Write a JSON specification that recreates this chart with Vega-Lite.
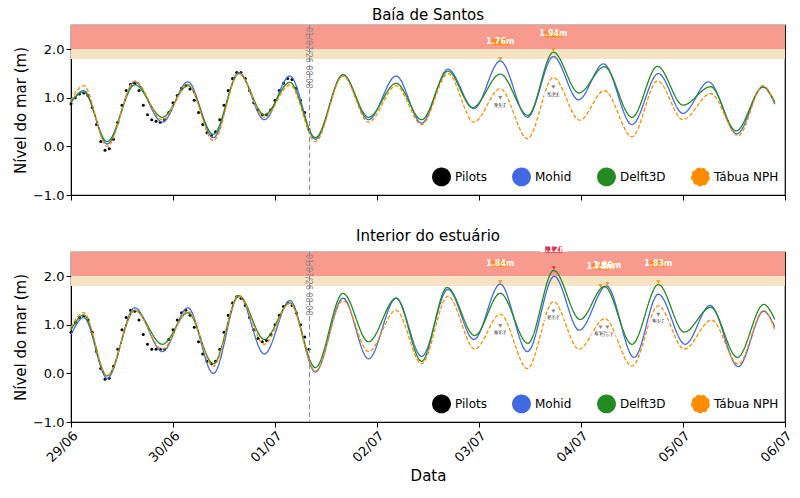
{
  "$schema": "https://vega.github.io/schema/vega-lite/v6.json",
  "padding": {"left": 12, "top": 6, "right": 8, "bottom": 5},
  "config": {
    "font": "DejaVu Sans",
    "view": {"stroke": "black", "strokeWidth": 1.2},
    "title": {"fontSize": 15, "fontWeight": "normal", "offset": 2},
    "axis": {"labelFontSize": 13, "titleFontSize": 15, "titleFontWeight": "normal", "grid": false, "tickColor": "black", "domainColor": "black", "labelColor": "black", "labelOverlap": false},
    "legend": {"orient": "bottom-right", "direction": "horizontal", "columns": 4, "labelFontSize": 12, "title": null, "symbolStrokeWidth": 1.5, "symbolSize": 300, "columnPadding": 22, "offset": 6}
  },
  "datasets": {
    "top": [
      {"s":"Pilots","h":0,"v":0.88},{"s":"Pilots","h":1,"v":1.0},{"s":"Pilots","h":2,"v":1.08},{"s":"Pilots","h":3,"v":1.1},{"s":"Pilots","h":4,"v":1.05},{"s":"Pilots","h":5,"v":0.8},{"s":"Pilots","h":6,"v":0.45},{"s":"Pilots","h":7,"v":0.1},{"s":"Pilots","h":8,"v":-0.08},{"s":"Pilots","h":9,"v":-0.05},{"s":"Pilots","h":10,"v":0.15},{"s":"Pilots","h":11,"v":0.5},{"s":"Pilots","h":12,"v":0.85},{"s":"Pilots","h":13,"v":1.15},{"s":"Pilots","h":14,"v":1.28},{"s":"Pilots","h":15,"v":1.3},{"s":"Pilots","h":16,"v":1.15},{"s":"Pilots","h":17,"v":0.85},{"s":"Pilots","h":18,"v":0.65},{"s":"Pilots","h":19,"v":0.55},{"s":"Pilots","h":20,"v":0.52},{"s":"Pilots","h":21,"v":0.5},{"s":"Pilots","h":22,"v":0.55},{"s":"Pilots","h":23,"v":0.7},{"s":"Pilots","h":24,"v":0.9},{"s":"Pilots","h":25,"v":1.05},{"s":"Pilots","h":26,"v":1.2},{"s":"Pilots","h":27,"v":1.25},{"s":"Pilots","h":28,"v":1.18},{"s":"Pilots","h":29,"v":0.95},{"s":"Pilots","h":30,"v":0.7},{"s":"Pilots","h":31,"v":0.45},{"s":"Pilots","h":32,"v":0.28},{"s":"Pilots","h":33,"v":0.22},{"s":"Pilots","h":34,"v":0.3},{"s":"Pilots","h":35,"v":0.55},{"s":"Pilots","h":36,"v":0.85},{"s":"Pilots","h":37,"v":1.15},{"s":"Pilots","h":38,"v":1.4},{"s":"Pilots","h":39,"v":1.52},{"s":"Pilots","h":40,"v":1.52},{"s":"Pilots","h":41,"v":1.4},{"s":"Pilots","h":42,"v":1.15},{"s":"Pilots","h":43,"v":0.9},{"s":"Pilots","h":44,"v":0.75},{"s":"Pilots","h":45,"v":0.65},{"s":"Pilots","h":46,"v":0.65},{"s":"Pilots","h":47,"v":0.75},{"s":"Pilots","h":48,"v":0.95},{"s":"Pilots","h":49,"v":1.15},{"s":"Pilots","h":50,"v":1.3},{"s":"Pilots","h":51,"v":1.4},{"s":"Pilots","h":52,"v":1.38},{"s":"Pilots","h":53,"v":1.2},{"s":"Pilots","h":54,"v":0.95},{"s":"Pilots","h":55,"v":0.7},{"s":"Pilots","h":56,"v":0.35},
      {"s":"Mohid","h":0,"v":0.9},{"s":"Mohid","h":3,"v":1.15},{"s":"Mohid","h":8.5,"v":0.05},{"s":"Mohid","h":15,"v":1.33},{"s":"Mohid","h":21.5,"v":0.5},{"s":"Mohid","h":27.5,"v":1.33},{"s":"Mohid","h":33.5,"v":0.18},{"s":"Mohid","h":39.5,"v":1.52},{"s":"Mohid","h":45.5,"v":0.55},{"s":"Mohid","h":51.5,"v":1.45},{"s":"Mohid","h":57.5,"v":0.15},{"s":"Mohid","h":64,"v":1.48},{"s":"Mohid","h":70,"v":0.55},{"s":"Mohid","h":76.5,"v":1.45},{"s":"Mohid","h":82.5,"v":0.48},{"s":"Mohid","h":88.7,"v":1.59},{"s":"Mohid","h":94.8,"v":0.78},{"s":"Mohid","h":101,"v":1.76},{"s":"Mohid","h":107.4,"v":0.6},{"s":"Mohid","h":113.5,"v":1.85},{"s":"Mohid","h":119.4,"v":0.96},{"s":"Mohid","h":125.3,"v":1.7},{"s":"Mohid","h":132,"v":0.45},{"s":"Mohid","h":138.2,"v":1.5},{"s":"Mohid","h":144,"v":0.68},{"s":"Mohid","h":150,"v":1.33},{"s":"Mohid","h":156.7,"v":0.26},{"s":"Mohid","h":162.8,"v":1.23},{"s":"Mohid","h":165.6,"v":0.87},
      {"s":"Delft3D","h":0,"v":0.92},{"s":"Delft3D","h":3,"v":1.12},{"s":"Delft3D","h":8.5,"v":0.1},{"s":"Delft3D","h":15,"v":1.27},{"s":"Delft3D","h":21.5,"v":0.6},{"s":"Delft3D","h":27.5,"v":1.25},{"s":"Delft3D","h":33.5,"v":0.25},{"s":"Delft3D","h":39.5,"v":1.5},{"s":"Delft3D","h":45.5,"v":0.65},{"s":"Delft3D","h":51.5,"v":1.32},{"s":"Delft3D","h":57.5,"v":0.18},{"s":"Delft3D","h":64,"v":1.47},{"s":"Delft3D","h":70,"v":0.6},{"s":"Delft3D","h":76.5,"v":1.3},{"s":"Delft3D","h":82.5,"v":0.55},{"s":"Delft3D","h":88.7,"v":1.55},{"s":"Delft3D","h":94.5,"v":0.8},{"s":"Delft3D","h":101,"v":1.49},{"s":"Delft3D","h":107.5,"v":0.64},{"s":"Delft3D","h":113.5,"v":1.94},{"s":"Delft3D","h":119.5,"v":1.1},{"s":"Delft3D","h":125.5,"v":1.64},{"s":"Delft3D","h":132,"v":0.6},{"s":"Delft3D","h":138,"v":1.65},{"s":"Delft3D","h":144,"v":0.85},{"s":"Delft3D","h":150.5,"v":1.23},{"s":"Delft3D","h":156.5,"v":0.32},{"s":"Delft3D","h":162.8,"v":1.22},{"s":"Delft3D","h":165.6,"v":0.92},
      {"s":"Tábua NPH","h":0,"v":0.95},{"s":"Tábua NPH","h":3,"v":1.25},{"s":"Tábua NPH","h":8.5,"v":0},{"s":"Tábua NPH","h":15,"v":1.35},{"s":"Tábua NPH","h":21.5,"v":0.55},{"s":"Tábua NPH","h":27.5,"v":1.28},{"s":"Tábua NPH","h":33.5,"v":0.12},{"s":"Tábua NPH","h":39.5,"v":1.5},{"s":"Tábua NPH","h":45.5,"v":0.6},{"s":"Tábua NPH","h":51.5,"v":1.27},{"s":"Tábua NPH","h":57.5,"v":0.1},{"s":"Tábua NPH","h":64,"v":1.45},{"s":"Tábua NPH","h":70,"v":0.5},{"s":"Tábua NPH","h":76.5,"v":1.25},{"s":"Tábua NPH","h":82.5,"v":0.45},{"s":"Tábua NPH","h":88.7,"v":1.5},{"s":"Tábua NPH","h":94.8,"v":0.5},{"s":"Tábua NPH","h":101,"v":1.19},{"s":"Tábua NPH","h":107.4,"v":0.16},{"s":"Tábua NPH","h":113.5,"v":1.42},{"s":"Tábua NPH","h":119.7,"v":0.54},{"s":"Tábua NPH","h":125.5,"v":1.15},{"s":"Tábua NPH","h":132,"v":0.2},{"s":"Tábua NPH","h":138,"v":1.35},{"s":"Tábua NPH","h":144,"v":0.55},{"s":"Tábua NPH","h":150.5,"v":1.09},{"s":"Tábua NPH","h":157,"v":0.22},{"s":"Tábua NPH","h":162.8,"v":1.25},{"s":"Tábua NPH","h":165.6,"v":0.9}
    ],
    "bot": [
      {"s":"Pilots","h":0,"v":0.85},{"s":"Pilots","h":1,"v":1.05},{"s":"Pilots","h":2,"v":1.15},{"s":"Pilots","h":3,"v":1.18},{"s":"Pilots","h":4,"v":1.1},{"s":"Pilots","h":5,"v":0.85},{"s":"Pilots","h":6,"v":0.45},{"s":"Pilots","h":7,"v":0.1},{"s":"Pilots","h":8,"v":-0.12},{"s":"Pilots","h":9,"v":-0.1},{"s":"Pilots","h":10,"v":0.15},{"s":"Pilots","h":11,"v":0.5},{"s":"Pilots","h":12,"v":0.9},{"s":"Pilots","h":13,"v":1.15},{"s":"Pilots","h":14,"v":1.3},{"s":"Pilots","h":15,"v":1.28},{"s":"Pilots","h":16,"v":1.1},{"s":"Pilots","h":17,"v":0.8},{"s":"Pilots","h":18,"v":0.6},{"s":"Pilots","h":19,"v":0.5},{"s":"Pilots","h":20,"v":0.5},{"s":"Pilots","h":21,"v":0.5},{"s":"Pilots","h":22,"v":0.5},{"s":"Pilots","h":23,"v":0.7},{"s":"Pilots","h":24,"v":0.9},{"s":"Pilots","h":25,"v":1.1},{"s":"Pilots","h":26,"v":1.25},{"s":"Pilots","h":27,"v":1.3},{"s":"Pilots","h":28,"v":1.2},{"s":"Pilots","h":29,"v":0.95},{"s":"Pilots","h":30,"v":0.65},{"s":"Pilots","h":31,"v":0.4},{"s":"Pilots","h":32,"v":0.25},{"s":"Pilots","h":33,"v":0.2},{"s":"Pilots","h":34,"v":0.25},{"s":"Pilots","h":35,"v":0.5},{"s":"Pilots","h":36,"v":0.85},{"s":"Pilots","h":37,"v":1.2},{"s":"Pilots","h":38,"v":1.45},{"s":"Pilots","h":39,"v":1.58},{"s":"Pilots","h":40,"v":1.55},{"s":"Pilots","h":41,"v":1.4},{"s":"Pilots","h":42,"v":1.15},{"s":"Pilots","h":43,"v":0.9},{"s":"Pilots","h":44,"v":0.72},{"s":"Pilots","h":45,"v":0.65},{"s":"Pilots","h":46,"v":0.68},{"s":"Pilots","h":47,"v":0.8},{"s":"Pilots","h":48,"v":1.0},{"s":"Pilots","h":49,"v":1.2},{"s":"Pilots","h":50,"v":1.38},{"s":"Pilots","h":51,"v":1.45},{"s":"Pilots","h":52,"v":1.4},{"s":"Pilots","h":53,"v":1.25},{"s":"Pilots","h":54,"v":1.0},{"s":"Pilots","h":55,"v":0.75},{"s":"Pilots","h":56,"v":0.5},
      {"s":"Mohid","h":0,"v":0.8},{"s":"Mohid","h":3,"v":1.15},{"s":"Mohid","h":8.5,"v":-0.1},{"s":"Mohid","h":15,"v":1.35},{"s":"Mohid","h":21.5,"v":0.45},{"s":"Mohid","h":27.5,"v":1.35},{"s":"Mohid","h":33.5,"v":0},{"s":"Mohid","h":39.5,"v":1.6},{"s":"Mohid","h":45.5,"v":0.4},{"s":"Mohid","h":51.5,"v":1.5},{"s":"Mohid","h":57.5,"v":0.03},{"s":"Mohid","h":64,"v":1.55},{"s":"Mohid","h":70,"v":0.3},{"s":"Mohid","h":76.5,"v":1.55},{"s":"Mohid","h":82.5,"v":0.35},{"s":"Mohid","h":88.7,"v":1.73},{"s":"Mohid","h":94.8,"v":0.7},{"s":"Mohid","h":101,"v":1.84},{"s":"Mohid","h":107.4,"v":0.45},{"s":"Mohid","h":113.7,"v":2.0},{"s":"Mohid","h":119.6,"v":0.89},{"s":"Mohid","h":126,"v":1.8},{"s":"Mohid","h":132.5,"v":0.33},{"s":"Mohid","h":138.2,"v":1.63},{"s":"Mohid","h":144.5,"v":0.6},{"s":"Mohid","h":150.4,"v":1.4},{"s":"Mohid","h":157,"v":0.14},{"s":"Mohid","h":163,"v":1.28},{"s":"Mohid","h":165.6,"v":0.95},
      {"s":"Delft3D","h":0,"v":0.9},{"s":"Delft3D","h":3,"v":1.2},{"s":"Delft3D","h":8.5,"v":-0.05},{"s":"Delft3D","h":15,"v":1.3},{"s":"Delft3D","h":21.5,"v":0.6},{"s":"Delft3D","h":27.5,"v":1.25},{"s":"Delft3D","h":33.5,"v":0.2},{"s":"Delft3D","h":39.5,"v":1.6},{"s":"Delft3D","h":45.5,"v":0.7},{"s":"Delft3D","h":51.5,"v":1.45},{"s":"Delft3D","h":57.5,"v":0.12},{"s":"Delft3D","h":64,"v":1.65},{"s":"Delft3D","h":70,"v":0.65},{"s":"Delft3D","h":76.5,"v":1.55},{"s":"Delft3D","h":82.5,"v":0.25},{"s":"Delft3D","h":88.5,"v":1.77},{"s":"Delft3D","h":95,"v":0.78},{"s":"Delft3D","h":101,"v":1.65},{"s":"Delft3D","h":107.5,"v":0.62},{"s":"Delft3D","h":113.6,"v":2.12},{"s":"Delft3D","h":119.8,"v":1.11},{"s":"Delft3D","h":125.5,"v":1.79},{"s":"Delft3D","h":132,"v":0.6},{"s":"Delft3D","h":138.2,"v":1.83},{"s":"Delft3D","h":144.3,"v":0.85},{"s":"Delft3D","h":150.5,"v":1.36},{"s":"Delft3D","h":156.8,"v":0.33},{"s":"Delft3D","h":163,"v":1.42},{"s":"Delft3D","h":165.6,"v":1.11},
      {"s":"Tábua NPH","h":0,"v":0.95},{"s":"Tábua NPH","h":3,"v":1.25},{"s":"Tábua NPH","h":8.5,"v":-0.05},{"s":"Tábua NPH","h":15,"v":1.3},{"s":"Tábua NPH","h":21.5,"v":0.5},{"s":"Tábua NPH","h":27.5,"v":1.28},{"s":"Tábua NPH","h":33.5,"v":0.15},{"s":"Tábua NPH","h":39.5,"v":1.6},{"s":"Tábua NPH","h":45.5,"v":0.6},{"s":"Tábua NPH","h":51.5,"v":1.45},{"s":"Tábua NPH","h":57.5,"v":0.05},{"s":"Tábua NPH","h":64,"v":1.5},{"s":"Tábua NPH","h":70,"v":0.45},{"s":"Tábua NPH","h":76.5,"v":1.3},{"s":"Tábua NPH","h":82.5,"v":0.2},{"s":"Tábua NPH","h":88.7,"v":1.59},{"s":"Tábua NPH","h":95,"v":0.5},{"s":"Tábua NPH","h":101,"v":1.22},{"s":"Tábua NPH","h":107.4,"v":0.1},{"s":"Tábua NPH","h":113.5,"v":1.48},{"s":"Tábua NPH","h":119.5,"v":0.5},{"s":"Tábua NPH","h":125.6,"v":1.13},{"s":"Tábua NPH","h":132,"v":0.15},{"s":"Tábua NPH","h":138.2,"v":1.39},{"s":"Tábua NPH","h":144.3,"v":0.5},{"s":"Tábua NPH","h":150.7,"v":1.1},{"s":"Tábua NPH","h":157,"v":0.19},{"s":"Tábua NPH","h":163,"v":1.3},{"s":"Tábua NPH","h":165.6,"v":0.9}
    ],
    "annTop": [
      {"h":101,"y":2.15,"p":1.8,"t":"1.76m","k":"o"},
      {"h":113.5,"y":2.31,"p":1.99,"t":"1.94m","k":"o"},
      {"h":101,"y":0.85,"p":1.0,"t":"1.19m","k":"g"},
      {"h":113.5,"y":1.07,"p":1.22,"t":"1.42m","k":"g"}
    ],
    "annBot": [
      {"h":101,"y":2.26,"p":1.88,"t":"1.84m","k":"o"},
      {"h":113.6,"y":2.55,"p":2.17,"t":"2.12m","k":"r"},
      {"h":124.6,"y":2.2,"p":1.8,"t":"1.78m","k":"o"},
      {"h":126.2,"y":2.22,"p":1.84,"t":"1.80m","k":"o"},
      {"h":138.2,"y":2.26,"p":1.88,"t":"1.83m","k":"o"},
      {"h":101,"y":0.84,"p":0.98,"t":"1.18m","k":"g"},
      {"h":113.5,"y":1.15,"p":1.28,"t":"1.48m","k":"g"},
      {"h":124.6,"y":0.82,"p":0.95,"t":"1.12m","k":"g"},
      {"h":126.2,"y":0.8,"p":0.95,"t":"1.13m","k":"g"},
      {"h":138.2,"y":1.08,"p":1.21,"t":"1.39m","k":"g"}
    ]
  },
  "resolve": {"legend": {"color": "independent", "strokeDash": "independent"}},
  "spacing": 24,
  "vconcat": [
    {
      "title": "Baía de Santos",
      "width": 714,
      "height": 170,
      "layer": [
        {"data": {"values": [{"a": 2.0, "b": 2.5}]}, "mark": {"type": "rect", "color": "#f99a8e"}, "encoding": {"y": {"field": "a", "type": "quantitative", "scale": {"domain": [-1, 2.5]}}, "y2": {"field": "b"}}},
        {"data": {"values": [{"a": 1.8, "b": 2.0}]}, "mark": {"type": "rect", "color": "#f6e3c3"}, "encoding": {"y": {"field": "a", "type": "quantitative"}, "y2": {"field": "b"}}},
        {"data": {"name": "top"}, "transform": [{"filter": "datum.s == 'Pilots'"}], "mark": {"type": "point", "filled": true, "size": 9, "opacity": 1}, "encoding": {"x": {"field": "h", "type": "quantitative"}, "y": {"field": "v", "type": "quantitative"}, "color": {"field": "s", "type": "nominal", "scale": {"domain": ["Pilots", "Mohid", "Delft3D", "Tábua NPH"], "range": ["black", "#4169e1", "#228b22", "#ff8c00"]}}}},
        {"data": {"name": "top"}, "transform": [{"filter": "datum.s != 'Pilots'"}], "mark": {"type": "line", "interpolate": "monotone", "strokeWidth": 1.3}, "encoding": {
          "x": {"field": "h", "type": "quantitative", "scale": {"domain": [0, 168], "nice": false}, "axis": {"values": [0, 24, 48, 72, 96, 120, 144, 168], "labels": false, "title": null}},
          "y": {"field": "v", "type": "quantitative", "scale": {"domain": [-1, 2.5], "nice": false}, "axis": {"values": [-1, -0.5, 0, 0.5, 1, 1.5, 2, 2.5], "format": ".1f", "title": "Nível do mar (m)"}},
          "color": {"field": "s", "type": "nominal"},
          "strokeDash": {"field": "s", "type": "nominal", "scale": {"domain": ["Pilots", "Mohid", "Delft3D", "Tábua NPH"], "range": [[1, 0], [1, 0], [1, 0], [4, 2]]}}}},
        {"data": {"values": [{"h": 56.13}]}, "mark": {"type": "rule", "color": "#888", "strokeDash": [5, 3]}, "encoding": {"x": {"field": "h", "type": "quantitative"}}},
        {"data": {"values": [{"h": 56.13, "y": 2.5, "t": "01/07/26 08:08"}]}, "mark": {"type": "text", "angle": 90, "align": "left", "baseline": "top", "dx": 2, "dy": -2, "fontSize": 8, "color": "#888"}, "encoding": {"x": {"field": "h", "type": "quantitative"}, "y": {"field": "y", "type": "quantitative"}, "text": {"field": "t"}}},
        {"data": {"name": "annTop"}, "mark": {"type": "point", "shape": "triangle-down", "filled": true, "size": 18, "opacity": 1}, "encoding": {"x": {"field": "h", "type": "quantitative"}, "y": {"field": "p", "type": "quantitative"}, "color": {"condition": [{"test": "datum.k == 'r'", "value": "#dc3545"}, {"test": "datum.k == 'g'", "value": "#8a8a8a"}], "value": "#ff8c1a"}}},
        {"data": {"name": "annTop"}, "mark": {"type": "point", "shape": "M-1.5,-0.55H1.5V0.55H-1.5Z", "filled": true, "opacity": 1}, "encoding": {"x": {"field": "h", "type": "quantitative"}, "y": {"field": "y", "type": "quantitative"}, "color": {"condition": [{"test": "datum.k == 'r'", "value": "#dc3545"}, {"test": "datum.k == 'g'", "value": "#8a8a8a"}], "value": "#ff8c1a"}, "size": {"condition": {"test": "datum.k == 'g'", "value": 60}, "value": 130}}},
        {"data": {"name": "annTop"}, "mark": {"type": "text", "color": "white", "fontWeight": "bold"}, "encoding": {"x": {"field": "h", "type": "quantitative"}, "y": {"field": "y", "type": "quantitative"}, "text": {"field": "t"}, "size": {"condition": {"test": "datum.k == 'g'", "value": 6}, "value": 8}}}
      ]
    },
    {
      "title": "Interior do estuário",
      "width": 714,
      "height": 170,
      "layer": [
        {"data": {"values": [{"a": 2.0, "b": 2.5}]}, "mark": {"type": "rect", "color": "#f99a8e"}, "encoding": {"y": {"field": "a", "type": "quantitative", "scale": {"domain": [-1, 2.5]}}, "y2": {"field": "b"}}},
        {"data": {"values": [{"a": 1.8, "b": 2.0}]}, "mark": {"type": "rect", "color": "#f6e3c3"}, "encoding": {"y": {"field": "a", "type": "quantitative"}, "y2": {"field": "b"}}},
        {"data": {"name": "bot"}, "transform": [{"filter": "datum.s == 'Pilots'"}], "mark": {"type": "point", "filled": true, "size": 9, "opacity": 1}, "encoding": {"x": {"field": "h", "type": "quantitative"}, "y": {"field": "v", "type": "quantitative"}, "color": {"field": "s", "type": "nominal", "scale": {"domain": ["Pilots", "Mohid", "Delft3D", "Tábua NPH"], "range": ["black", "#4169e1", "#228b22", "#ff8c00"]}}}},
        {"data": {"name": "bot"}, "transform": [{"filter": "datum.s != 'Pilots'"}], "mark": {"type": "line", "interpolate": "monotone", "strokeWidth": 1.3}, "encoding": {
          "x": {"field": "h", "type": "quantitative", "scale": {"domain": [0, 168], "nice": false}, "axis": {"values": [0, 24, 48, 72, 96, 120, 144, 168], "labelAngle": -45, "labelAlign": "right", "labelExpr": "['29/06','30/06','01/07','02/07','03/07','04/07','05/07','06/07'][round(datum.value/24)]", "title": "Data"}},
          "y": {"field": "v", "type": "quantitative", "scale": {"domain": [-1, 2.5], "nice": false}, "axis": {"values": [-1, -0.5, 0, 0.5, 1, 1.5, 2, 2.5], "format": ".1f", "title": "Nível do mar (m)"}},
          "color": {"field": "s", "type": "nominal"},
          "strokeDash": {"field": "s", "type": "nominal", "scale": {"domain": ["Pilots", "Mohid", "Delft3D", "Tábua NPH"], "range": [[1, 0], [1, 0], [1, 0], [4, 2]]}}}},
        {"data": {"values": [{"h": 56.13}]}, "mark": {"type": "rule", "color": "#888", "strokeDash": [5, 3]}, "encoding": {"x": {"field": "h", "type": "quantitative"}}},
        {"data": {"values": [{"h": 56.13, "y": 2.5, "t": "01/07/26 08:08"}]}, "mark": {"type": "text", "angle": 90, "align": "left", "baseline": "top", "dx": 2, "dy": -2, "fontSize": 8, "color": "#888"}, "encoding": {"x": {"field": "h", "type": "quantitative"}, "y": {"field": "y", "type": "quantitative"}, "text": {"field": "t"}}},
        {"data": {"name": "annBot"}, "mark": {"type": "point", "shape": "triangle-down", "filled": true, "size": 18, "opacity": 1}, "encoding": {"x": {"field": "h", "type": "quantitative"}, "y": {"field": "p", "type": "quantitative"}, "color": {"condition": [{"test": "datum.k == 'r'", "value": "#dc3545"}, {"test": "datum.k == 'g'", "value": "#8a8a8a"}], "value": "#ff8c1a"}}},
        {"data": {"name": "annBot"}, "mark": {"type": "point", "shape": "M-1.5,-0.55H1.5V0.55H-1.5Z", "filled": true, "opacity": 1}, "encoding": {"x": {"field": "h", "type": "quantitative"}, "y": {"field": "y", "type": "quantitative"}, "color": {"condition": [{"test": "datum.k == 'r'", "value": "#dc3545"}, {"test": "datum.k == 'g'", "value": "#8a8a8a"}], "value": "#ff8c1a"}, "size": {"condition": {"test": "datum.k == 'g'", "value": 60}, "value": 130}}},
        {"data": {"name": "annBot"}, "mark": {"type": "text", "color": "white", "fontWeight": "bold"}, "encoding": {"x": {"field": "h", "type": "quantitative"}, "y": {"field": "y", "type": "quantitative"}, "text": {"field": "t"}, "size": {"condition": {"test": "datum.k == 'g'", "value": 6}, "value": 8}}}
      ]
    }
  ]
}
